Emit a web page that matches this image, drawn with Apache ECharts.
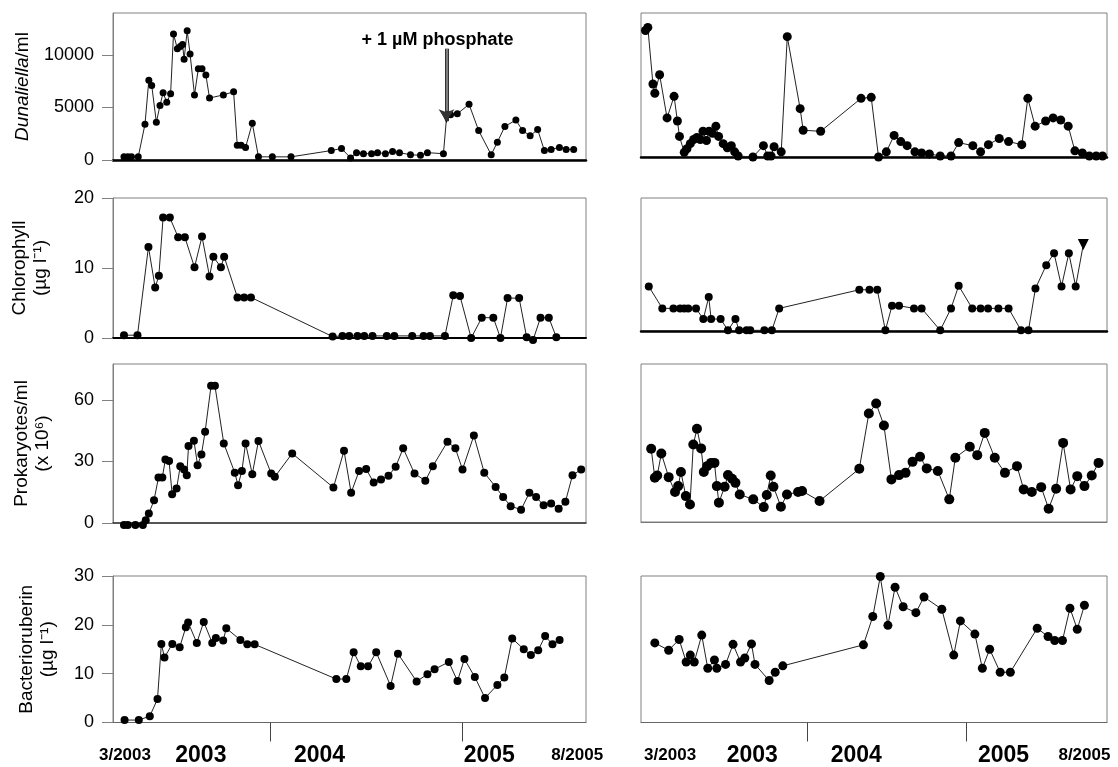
<!DOCTYPE html>
<html><head><meta charset="utf-8">
<script src="https://cdn.jsdelivr.net/npm/echarts@6/dist/echarts.min.js"></script>
<style>html,body{margin:0;padding:0;background:#fff}#c{width:1118px;height:767px}</style>
</head><body><div id="c"></div>
<script>
// ---- data (x = decimal year) ----
const dunL = [[2003.242,300],[2003.262,300],[2003.281,300],[2003.316,300],[2003.351,3400],[2003.371,7600],[2003.386,7100],[2003.410,3600],[2003.429,5200],[2003.445,6400],[2003.464,5500],[2003.484,6300],[2003.499,12000],[2003.519,10600],[2003.534,10800],[2003.546,11000],[2003.554,9600],[2003.570,12300],[2003.585,10100],[2003.608,6200],[2003.628,8700],[2003.647,8700],[2003.667,8100],[2003.686,5900],[2003.758,6200],[2003.811,6500],[2003.830,1400],[2003.850,1400],[2003.873,1200],[2003.908,3500],[2003.940,300],[2004.012,300],[2004.109,300],[2004.318,900],[2004.371,1100],[2004.418,200],[2004.449,700],[2004.485,600],[2004.527,600],[2004.558,700],[2004.599,600],[2004.636,800],[2004.672,700],[2004.729,500],[2004.781,450],[2004.817,700],[2004.900,600],[2004.916,4000],[2004.937,4300],[2004.972,4400],[2005.033,5300],[2005.083,2800],[2005.148,500],[2005.180,1700],[2005.219,3200],[2005.276,3800],[2005.311,2800],[2005.350,2300],[2005.389,2900],[2005.424,900],[2005.459,1000],[2005.502,1200],[2005.537,1000],[2005.576,1000]];
const dunR = [[2002.983,12300],[2002.998,12600],[2003.030,7100],[2003.042,6200],[2003.072,8000],[2003.119,3800],[2003.163,5900],[2003.184,3500],[2003.197,2000],[2003.227,450],[2003.244,800],[2003.265,1300],[2003.286,1700],[2003.307,1900],[2003.328,1700],[2003.345,2500],[2003.367,1600],[2003.383,2500],[2003.405,2300],[2003.426,3000],[2003.443,2000],[2003.472,1300],[2003.498,900],[2003.523,1100],[2003.544,500],[2003.566,100],[2003.659,0],[2003.725,1100],[2003.752,100],[2003.773,100],[2003.792,1000],[2003.837,500],[2003.875,11700],[2003.956,4700],[2003.975,2600],[2004.085,2500],[2004.339,5700],[2004.403,5800],[2004.449,0],[2004.498,500],[2004.547,2100],[2004.589,1500],[2004.629,1100],[2004.678,500],[2004.720,400],[2004.769,300],[2004.837,100],[2004.905,100],[2004.953,1400],[2005.042,1100],[2005.091,500],[2005.140,1200],[2005.208,1800],[2005.267,1500],[2005.350,1200],[2005.388,5700],[2005.434,3000],[2005.500,3500],[2005.547,3800],[2005.595,3600],[2005.642,3000],[2005.684,600],[2005.731,400],[2005.775,100],[2005.818,100],[2005.858,100]];
const chlL = [[2003.242,0.4],[2003.312,0.4],[2003.369,13.0],[2003.404,7.2],[2003.423,8.9],[2003.445,17.2],[2003.480,17.2],[2003.523,14.4],[2003.558,14.4],[2003.608,10.1],[2003.647,14.5],[2003.686,8.8],[2003.706,11.6],[2003.745,10.1],[2003.762,11.6],[2003.831,5.8],[2003.866,5.8],[2003.901,5.8],[2004.325,0.2],[2004.376,0.3],[2004.411,0.3],[2004.454,0.3],[2004.489,0.3],[2004.532,0.3],[2004.606,0.3],[2004.645,0.3],[2004.738,0.3],[2004.797,0.3],[2004.830,0.3],[2004.908,0.3],[2004.951,6.1],[2004.986,6.0],[2005.044,0.0],[2005.099,2.9],[2005.159,2.9],[2005.196,0.0],[2005.233,5.7],[2005.293,5.7],[2005.332,0.1],[2005.365,-0.3],[2005.404,2.9],[2005.447,2.9],[2005.486,0.1]];
const chlR = [[2003.004,6.7],[2003.089,3.4],[2003.159,3.4],[2003.201,3.4],[2003.227,3.4],[2003.252,3.4],[2003.301,3.4],[2003.347,1.8],[2003.381,5.1],[2003.396,1.8],[2003.456,1.8],[2003.502,0.1],[2003.549,1.8],[2003.572,0.1],[2003.619,0.1],[2003.642,0.1],[2003.731,0.1],[2003.778,0.1],[2003.824,3.4],[2004.328,6.2],[2004.392,6.2],[2004.441,6.2],[2004.492,0.1],[2004.534,3.8],[2004.578,3.8],[2004.672,3.4],[2004.720,3.4],[2004.837,0.1],[2004.905,3.4],[2004.953,6.8],[2005.038,3.4],[2005.091,3.4],[2005.138,3.4],[2005.203,3.4],[2005.267,3.4],[2005.345,0.1],[2005.392,0.1],[2005.436,6.4],[2005.504,9.9],[2005.553,11.7],[2005.600,6.7],[2005.646,11.7],[2005.689,6.7],[2005.737,13.0]];
const proL = [[2003.242,-1],[2003.262,-1],[2003.301,-1],[2003.340,-1],[2003.355,1.3],[2003.371,4.6],[2003.398,11.1],[2003.421,22.2],[2003.441,22.2],[2003.457,31],[2003.476,30.2],[2003.492,14],[2003.515,16.8],[2003.534,27.7],[2003.554,26.1],[2003.568,23.3],[2003.577,37.5],[2003.605,40.1],[2003.624,28.2],[2003.644,33.4],[2003.663,44.5],[2003.694,66.9],[2003.714,66.9],[2003.760,38.8],[2003.817,24.5],[2003.834,18.4],[2003.854,25.4],[2003.873,38.8],[2003.908,23.8],[2003.940,40.0],[2004.006,24.1],[2004.025,22.5],[2004.115,33.9],[2004.329,17.3],[2004.384,35.2],[2004.421,14.7],[2004.462,25.3],[2004.499,26.3],[2004.538,19.7],[2004.576,21.2],[2004.615,23.0],[2004.652,27.4],[2004.691,36.4],[2004.750,24.1],[2004.806,20.6],[2004.845,27.7],[2004.921,39.6],[2004.962,36.4],[2004.999,26.1],[2005.058,42.6],[2005.112,24.5],[2005.171,17.6],[2005.210,12.7],[2005.249,8.2],[2005.303,6.5],[2005.346,14.7],[2005.381,12.7],[2005.420,8.6],[2005.459,9.5],[2005.498,7.0],[2005.533,10.3],[2005.570,23.3],[2005.615,26.1]];
const proR = [[2003.019,35.9],[2003.042,21.7],[2003.057,22.8],[2003.083,33.6],[2003.129,22.0],[2003.169,14.7],[2003.189,17.6],[2003.206,24.5],[2003.237,12.7],[2003.263,8.6],[2003.284,38.0],[2003.307,45.7],[2003.333,36.1],[2003.350,24.5],[2003.371,27.4],[2003.396,29.0],[2003.417,29.0],[2003.432,17.6],[2003.445,9.5],[2003.481,17.3],[2003.502,23.0],[2003.528,21.2],[2003.549,19.2],[2003.576,13.5],[2003.661,11.1],[2003.727,7.3],[2003.746,13.2],[2003.771,22.8],[2003.788,17.3],[2003.835,7.5],[2003.873,13.5],[2003.943,14.7],[2003.968,15.2],[2004.078,10.3],[2004.328,26.1],[2004.388,53.2],[2004.434,58.1],[2004.483,47.3],[2004.530,20.9],[2004.578,23.0],[2004.619,24.1],[2004.663,29.5],[2004.710,32.0],[2004.752,26.3],[2004.822,25.0],[2004.894,11.1],[2004.932,31.5],[2005.023,36.9],[2005.070,32.8],[2005.117,43.7],[2005.180,31.5],[2005.244,24.1],[2005.320,27.4],[2005.362,16.0],[2005.413,14.7],[2005.472,17.1],[2005.519,6.5],[2005.566,16.3],[2005.610,38.8],[2005.657,16.0],[2005.699,22.5],[2005.744,17.6],[2005.790,22.8],[2005.833,29.0]];
const bacL = [[2003.245,0.5],[2003.319,0.5],[2003.376,1.3],[2003.416,4.8],[2003.436,16.1],[2003.452,13.3],[2003.493,16.1],[2003.531,15.4],[2003.563,19.5],[2003.575,20.5],[2003.620,16.3],[2003.656,20.6],[2003.700,16.3],[2003.719,17.3],[2003.757,16.8],[2003.773,19.3],[2003.846,16.9],[2003.882,16.0],[2003.920,16.0],[2004.344,8.9],[2004.396,8.9],[2004.434,14.4],[2004.471,11.5],[2004.509,11.5],[2004.551,14.4],[2004.626,7.5],[2004.664,14.1],[2004.761,8.4],[2004.817,9.9],[2004.854,10.9],[2004.928,12.4],[2004.973,8.5],[2005.009,13.0],[2005.063,9.3],[2005.116,5.0],[2005.180,7.7],[2005.216,9.2],[2005.257,17.2],[2005.317,15.0],[2005.354,13.8],[2005.392,14.8],[2005.428,17.7],[2005.466,16.0],[2005.503,16.9]];
const bacR = [[2003.042,16.3],[2003.129,14.8],[2003.195,17.0],[2003.239,12.4],[2003.265,13.8],[2003.290,12.4],[2003.337,17.9],[2003.375,11.1],[2003.417,12.8],[2003.432,11.1],[2003.487,11.9],[2003.534,16.0],[2003.581,12.4],[2003.608,13.2],[2003.650,16.1],[2003.672,11.9],[2003.761,8.6],[2003.799,10.3],[2003.847,11.6],[2004.354,15.9],[2004.413,21.7],[2004.460,29.9],[2004.508,19.9],[2004.553,27.7],[2004.604,23.7],[2004.684,22.5],[2004.735,25.7],[2004.847,23.2],[2004.922,13.8],[2004.964,20.8],[2005.055,18.1],[2005.102,11.1],[2005.148,15.0],[2005.214,10.3],[2005.278,10.3],[2005.447,19.3],[2005.515,17.6],[2005.557,16.8],[2005.606,16.8],[2005.653,23.4],[2005.699,19.1],[2005.744,24.0]];

// tick labels / axis ranges
const yNames = ['{i|Dunaliella}/ml', 'Chlorophyll\n(\u00b5g l\u207b\u00b9)', 'Prokaryotes/ml\n(x 10\u2076)', 'Bacterioruberin\n(\u00b5g l\u207b\u00b9)'];
const yMax = [14000, 20, 77.5, 30];
const yTicks = [[0,5000,10000],[0,10,20],[0,30,60],[0,10,20,30]];
const xRangeL = [2003.185, 2005.64];
const xRangeR = [2002.955, 2005.886];
const yearDividers = [2004, 2005];
const bottomLabels = ['3/2003','2003','2004','2005','8/2005'];
const bottomLabelPosL = [2003.247, 2003.641, 2004.257, 2005.138, 2005.594];
const bottomLabelPosR = [2003.138, 2003.655, 2004.309, 2005.235, 2005.744];
const phosphateNote = '+ 1 \u00b5M phosphate';
const phosphateX = 2004.916, phosphateTextX = 2004.869, phosphateTextY = 11400, arrowFrom = 10600, arrowTo = 3700;

// ---- layout ----
const FONT = '"Liberation Sans", Arial, sans-serif';
const grids = [
  {left:113, top:13, width:473, height:147},
  {left:641, top:13, width:466, height:144},
  {left:113, top:198, width:473, height:140},
  {left:641, top:198, width:466, height:133},
  {left:113, top:364, width:473, height:159},
  {left:641, top:364, width:466, height:158},
  {left:113, top:576, width:473, height:147},
  {left:641, top:576, width:466, height:149}
].map(g => Object.assign(g, {show:true, borderColor:'#808080', borderWidth:1, containLabel:false}));

const seriesData = [dunL, dunR, chlL, chlR, proL, proR, bacL, bacR];
const nameGaps = [80, 0, 62, 0, 60, 0, 55, 0];
const xLineStyles = [
  {color:'#000', width:2.5},{color:'#000', width:2.5},
  {color:'#000', width:2},{color:'#000', width:2.5},
  {color:'#333', width:1.5},{color:'#777', width:1},
  {color:'#666', width:1},{color:'#666', width:1}
];
const symSizes = [7, 9, 8, 8, 8, 10, 8, 9];

const xAxes = [], yAxes = [], series = [];
for (let i = 0; i < 8; i++) {
  const row = Math.floor(i / 2), left = i % 2 === 0;
  const rng = left ? xRangeL : xRangeR;
  const bottom = row === 3;
  const lblPos = left ? bottomLabelPosL : bottomLabelPosR;
  xAxes.push({
    type:'value', gridIndex:i, min:rng[0], max:rng[1],
    splitLine:{show:false},
    axisLine:{show:true, onZero:false, lineStyle:xLineStyles[i]},
    axisTick: bottom ? {show:true, customValues:yearDividers, length:19, lineStyle:{color:'#444', width:1}} : {show:false},
    axisLabel: bottom ? {
      show:true, customValues:lblPos, margin:33, verticalAlign:'middle',
      formatter: v => {
        const k = lblPos.findIndex(p => Math.abs(p - v) < 1e-6);
        const t = bottomLabels[k] || '';
        return (k === 0 || k === 4) ? '{s|' + t + '}' : '{b|' + t + '}';
      },
      rich:{ s:{fontSize:17, fontWeight:'bold', color:'#000', fontFamily:FONT}, b:{fontSize:23, fontWeight:'bold', color:'#000', fontFamily:FONT} }
    } : {show:false}
  });
  yAxes.push({
    type:'value', gridIndex:i, min:0, max:yMax[row],
    splitLine:{show:false},
    axisLine:{show:left, lineStyle:{color:'#808080', width:1}},
    axisTick: left ? {show:true, customValues:yTicks[row], length:11, lineStyle:{color:'#808080'}} : {show:false},
    axisLabel: left ? {show:true, customValues:yTicks[row], margin:19, fontSize:18, color:'#000', fontFamily:FONT, formatter: v => String(v)} : {show:false},
    name: left ? yNames[row] : '',
    nameLocation:'middle', nameRotate:90, nameGap:nameGaps[i],
    nameTextStyle:{fontSize:19, lineHeight:21, color:'#000', fontFamily:FONT, align:'center',
      rich:{ i:{fontStyle:'italic', fontSize:19, color:'#000', fontFamily:FONT} } }
  });
  const data = seriesData[i].map((p, k) => {
    const isTri = (i === 0 && p[0] === phosphateX) || (i === 3 && k === seriesData[i].length - 1);
    return isTri ? {value:p, symbol:'triangle', symbolRotate:180, symbolSize:symSizes[i] + 3} : p;
  });
  const s = {
    type:'line', xAxisIndex:i, yAxisIndex:i, data:data, clip:false,
    symbol:'circle', symbolSize:symSizes[i], showAllSymbol:true,
    itemStyle:{color:'#000'}, lineStyle:{color:'#222', width:1},
    emphasis:{disabled:true}, animation:false, z:3
  };
  if (i === 0) {
    s.markLine = {
      silent:true, animation:false, symbol:['none','arrow'], symbolSize:12,
      lineStyle:{type:'solid'},
      label:{show:false},
      data:[
        [{coord:[phosphateX, arrowFrom], lineStyle:{color:'#333', width:4, type:'solid'}}, {coord:[phosphateX, arrowTo]}],
        [{coord:[phosphateX, arrowFrom], lineStyle:{color:'#999', width:1.5, type:'solid'}, symbol:'none'}, {coord:[phosphateX, arrowTo + 1000], symbol:'none'}]
      ]
    };
    s.markPoint = {
      silent:true, animation:false,
      data:[{coord:[phosphateTextX, phosphateTextY], symbol:'circle', symbolSize:0,
        label:{show:true, position:'inside', formatter:phosphateNote, fontSize:18, fontWeight:'bold', color:'#000', fontFamily:FONT}}]
    };
  }
  series.push(s);
}

const chart = echarts.init(document.getElementById('c'), null, {renderer:'canvas'});
chart.setOption({
  backgroundColor:'#fff', animation:false,
  textStyle:{fontFamily:FONT},
  grid:grids, xAxis:xAxes, yAxis:yAxes, series:series
});
</script></body></html>
